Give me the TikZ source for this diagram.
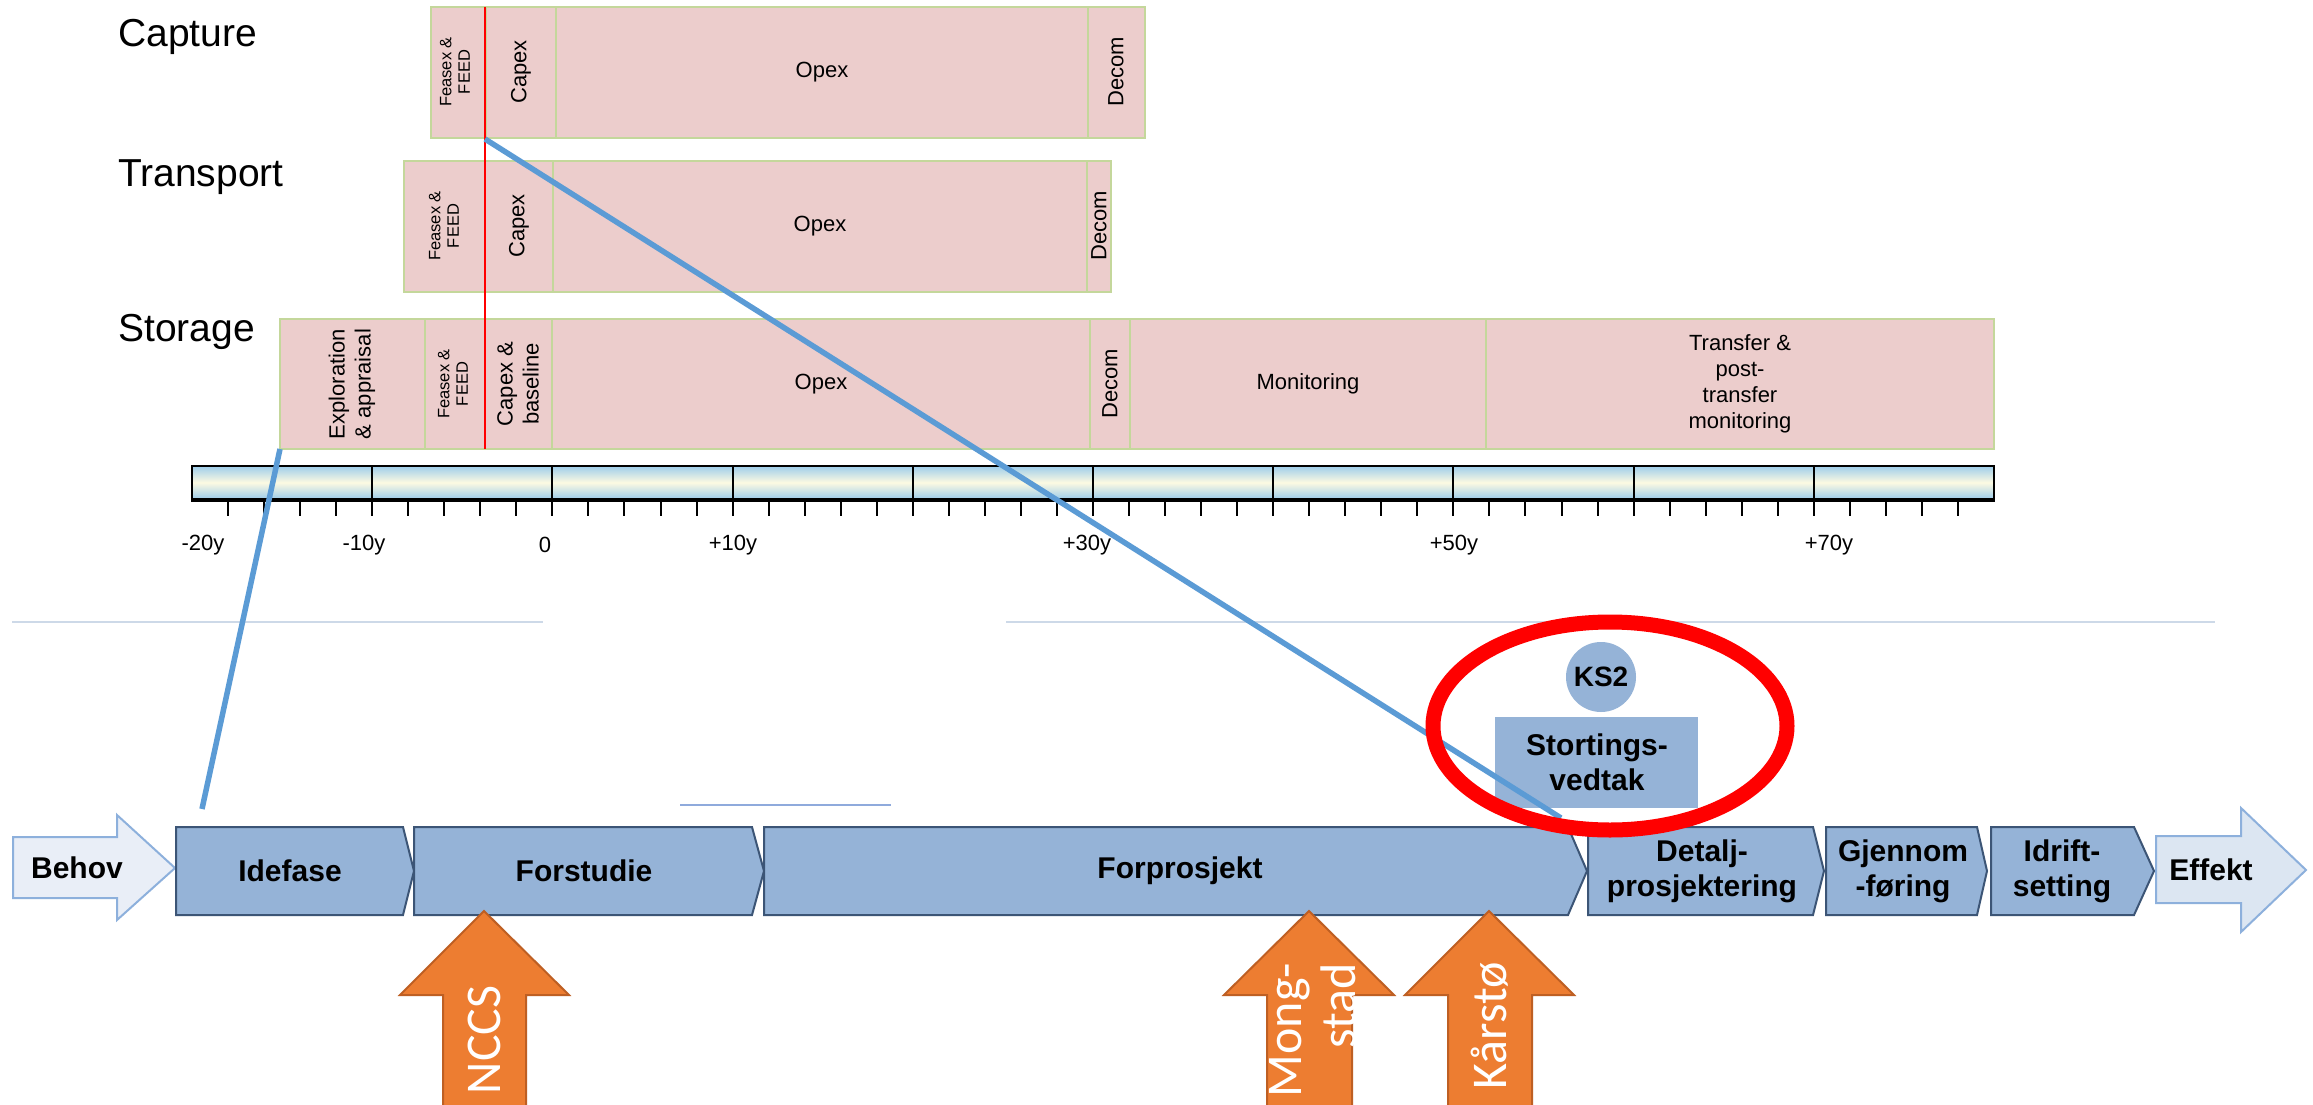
\documentclass[tikz,border=0pt]{standalone}
\usepackage{fontspec}
\setmainfont{Liberation Sans}
\newfontfamily\calfont{Carlito}
\definecolor{pinkfill}{RGB}{236,205,204}
\definecolor{greenline}{RGB}{196,215,155}
\definecolor{chainblue}{RGB}{149,179,215}
\definecolor{chainedge}{RGB}{60,85,118}
\definecolor{lightarrow}{RGB}{233,238,247}
\definecolor{lightarrowB}{RGB}{220,230,242}
\definecolor{lightedge}{RGB}{141,176,220}
\definecolor{linkblue}{RGB}{91,155,213}
\definecolor{orangefill}{RGB}{237,125,49}
\definecolor{orangeedge}{RGB}{190,95,35}
\definecolor{sepcol}{RGB}{205,217,232}
\definecolor{shortcol}{RGB}{143,170,220}
\definecolor{barblue}{RGB}{158,205,234}
\definecolor{barcream}{RGB}{253,250,226}
\begin{document}
\begin{tikzpicture}[x=1pt,y=-1pt,
  rowtitle/.style={font=\fontsize{39}{47}\selectfont, anchor=west, inner sep=0},
  celltxt/.style={font=\fontsize{22}{26}\selectfont, align=center, inner sep=0},
  smalltxt/.style={font=\fontsize{16.5}{18.5}\selectfont, align=center, inner sep=0},
  axistxt/.style={font=\fontsize{22}{26}\selectfont, inner sep=0},
  cellbox/.style={draw=greenline, fill=pinkfill, line width=2.2pt},
  celldiv/.style={draw=greenline, line width=1.8pt},
  redline/.style={draw=red, line width=1.8pt},
  chainbox/.style={draw=chainedge, fill=chainblue, line width=2pt, line join=miter},
  chaintxt/.style={font=\bfseries\fontsize{30}{35}\selectfont, align=center, inner sep=0},
  lightbox/.style={draw=lightedge, line width=2pt},
  linkline/.style={draw=linkblue, line width=5.5pt},
  orangebox/.style={draw=orangeedge, fill=orangefill, line width=2pt},
  orangetxt/.style={font=\calfont\fontsize{50}{54}\selectfont, text=white, inner sep=0, rotate=90},
  sepline/.style={draw=sepcol, line width=2.5pt},
  tickline/.style={draw=black, line width=2pt}]
\useasboundingbox (0,0) rectangle (2313,1105);
\clip (0,0) rectangle (2313,1105);
\fill[white] (0,0) rectangle (2313,1105);

% ---------- row titles
\node[rowtitle] (tcap) at (118,37) {Capture};
\node[rowtitle] (ttra) at (118,177) {Transport};
\node[rowtitle] (tsto) at (118,332) {Storage};

% ---------- Capture row
\draw[cellbox] (431,7) rectangle (1145,138);
\foreach \xx in {486,556,1088} \draw[celldiv] (\xx,7) -- (\xx,138);
\node[smalltxt, rotate=90] (capfeed) at (455,72) {Feasex \&\\FEED};
\node[celltxt, rotate=90] (capcapex) at (521,72) {Capex};
\node[celltxt] (capopex) at (822,72) {Opex};
\node[celltxt, rotate=90] (capdecom) at (1116,72) {Decom};

% ---------- Transport row
\draw[cellbox] (404,161) rectangle (1111,292);
\foreach \xx in {485,553,1087} \draw[celldiv] (\xx,161) -- (\xx,292);
\node[smalltxt, rotate=90] (trafeed) at (444,226) {Feasex \&\\FEED};
\node[celltxt, rotate=90] (tracapex) at (519,226) {Capex};
\node[celltxt] (traopex) at (820,226) {Opex};
\node[celltxt, rotate=90] (tradecom) at (1099,226) {Decom};

% ---------- Storage row
\draw[cellbox] (280,319) rectangle (1994,449);
\foreach \xx in {425,485,552,1090,1130,1486} \draw[celldiv] (\xx,319) -- (\xx,449);
\node[celltxt, rotate=90] (stoexp) at (352,384) {Exploration\\\& appraisal};
\node[smalltxt, rotate=90] (stofeed) at (453,384) {Feasex \&\\FEED};
\node[celltxt, rotate=90] (stocapex) at (518,384) {Capex \&\\baseline};
\node[celltxt] (stoopex) at (821,384) {Opex};
\node[celltxt, rotate=90] (stodecom) at (1110,384) {Decom};
\node[celltxt] (stomon) at (1308,384) {Monitoring};
\node[celltxt] (stotrans) at (1740,384) {Transfer \&\\post-\\transfer\\monitoring};

% ---------- red vertical line
\coordinate (redtop) at (485,7);
\coordinate (redbot) at (485,449);
\draw[redline] (redtop) -- (redbot);

% ---------- timeline bar
\shade[top color=barblue, bottom color=barblue, middle color=barcream] (192,466) rectangle (1994,499);
\draw[black, line width=2pt] (192,466) rectangle (1994,499);
\draw[black, line width=4.5pt] (191,500) -- (1995,500);
\foreach \yy in {-10,0,...,70} \draw[tickline] ({192+(\yy+20)*18.02},466) -- ({192+(\yy+20)*18.02},499);
\foreach \yy in {-18,-16,...,78} \draw[tickline] ({192+(\yy+20)*18.02},500) -- ({192+(\yy+20)*18.02},516);
\node[axistxt] (ax1) at (203,545) {-20y};
\node[axistxt] (ax2) at (364,545) {-10y};
\node[axistxt] (ax3) at (545,545) {0};
\node[axistxt] (ax4) at (733,545) {+10y};
\node[axistxt] (ax5) at (1087,545) {+30y};
\node[axistxt] (ax6) at (1454,545) {+50y};
\node[axistxt] (ax7) at (1829,545) {+70y};

% ---------- separators
\draw[sepline] (12,622) -- (543,622);
\draw[sepline] (1006,622) -- (2215,622);
\draw[draw=shortcol, line width=2.5pt] (680,805) -- (891,805);

% ---------- process chain
\draw[lightbox, fill=lightarrow] (13,837) -- (117,837) -- (117,815) -- (175,868) -- (117,920) -- (117,898) -- (13,898) -- cycle;
\node[chaintxt] (behov) at (77,868) {Behov};
\draw[chainbox] (176,827) -- (403,827) -- (414,871) -- (403,915) -- (176,915) -- cycle;
\node[chaintxt] (idefase) at (290,871) {Idefase};
\draw[chainbox] (414,827) -- (752,827) -- (764,871) -- (752,915) -- (414,915) -- cycle;
\node[chaintxt] (forstudie) at (584,871) {Forstudie};
\draw[chainbox] (764,827) -- (1568,827) -- (1587,871) -- (1568,915) -- (764,915) -- cycle;
\node[chaintxt] (forprosjekt) at (1180,871) {Forprosjekt};
\draw[chainbox] (1588,827) -- (1813,827) -- (1824,871) -- (1813,915) -- (1588,915) -- cycle;
\node[chaintxt] (detalj) at (1702,871) {Detalj-\\prosjektering};
\draw[chainbox] (1826,827) -- (1977,827) -- (1987,871) -- (1977,915) -- (1826,915) -- cycle;
\node[chaintxt] (gjennom) at (1903,871) {Gjennom\\-føring};
\draw[chainbox] (1991,827) -- (2134,827) -- (2154,871) -- (2134,915) -- (1991,915) -- cycle;
\node[chaintxt] (idrift) at (2062,871) {Idrift-\\setting};
\draw[lightbox, fill=lightarrowB] (2156,836) -- (2241,836) -- (2241,808) -- (2306,870) -- (2241,932) -- (2241,903) -- (2156,903) -- cycle;
\node[chaintxt] (effekt) at (2211,870) {Effekt};

% ---------- KS2 and Stortingsvedtak
\node[circle, fill=chainblue, minimum size=70pt, inner sep=0, font=\bfseries\fontsize{28}{32}\selectfont] (ks2) at (1601,677) {KS2};
\fill[chainblue] (1495,717) rectangle (1698,808);
\node[chaintxt] (storting) at (1597,762) {Stortings-\\vedtak};

% ---------- link lines
\coordinate (stoBL) at (280,449);
\coordinate (ideTop) at (202,809);
\coordinate (capRed) at (485,139);
\coordinate (forEnd) at (1561,818);
\draw[linkline] (stoBL) -- (ideTop);
\draw[linkline] (capRed) -- (forEnd);

% ---------- red ellipse
\coordinate (ring) at (1610,726);
\draw[red, line width=15pt] (ring) ellipse [x radius=177, y radius=104];

% ---------- orange arrows
\draw[orangebox] (484,911) -- (569,995) -- (526,995) -- (526,1130) -- (443,1130) -- (443,995) -- (400,995) -- cycle;
\node[orangetxt] (nccs) at (484,1040) {NCCS};
\draw[orangebox] (1309,911) -- (1394,995) -- (1352,995) -- (1352,1130) -- (1267,1130) -- (1267,995) -- (1224,995) -- cycle;
\node[orangetxt, align=right] (mongstad) at (1313,1030) {Mong-\\stad};
\draw[orangebox] (1489,911) -- (1574,995) -- (1532,995) -- (1532,1130) -- (1448,1130) -- (1448,995) -- (1405,995) -- cycle;
\node[orangetxt] (karsto) at (1490,1026) {Kårstø};
\end{tikzpicture}
\end{document}
